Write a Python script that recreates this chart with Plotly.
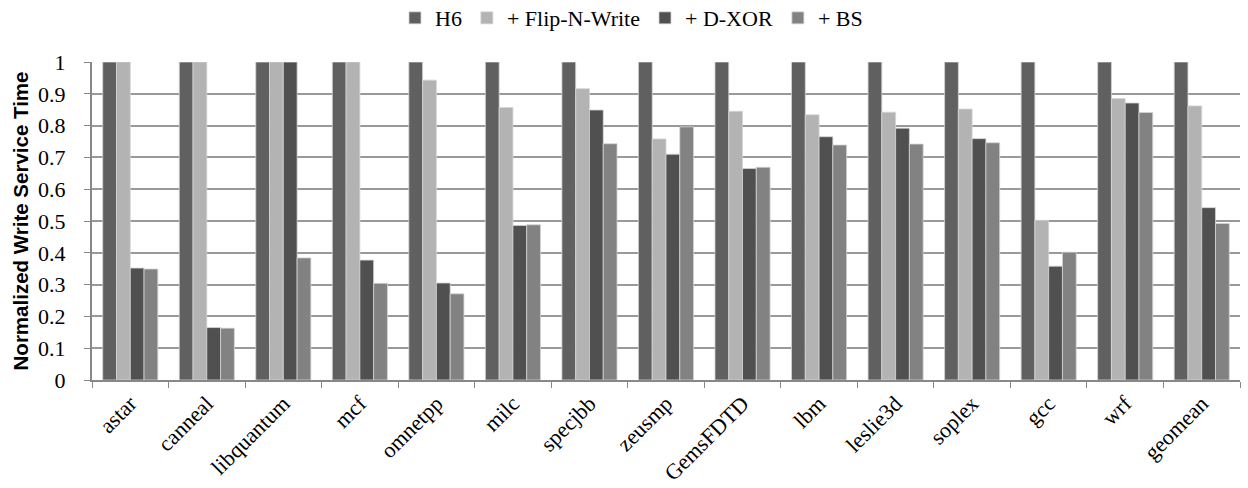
import plotly.graph_objects as go

benchmarks = ["astar", "canneal", "libquantum", "mcf", "omnetpp", "milc", "specjbb",
              "zeusmp", "GemsFDTD", "lbm", "leslie3d", "soplex", "gcc", "wrf", "geomean"]

h6 = [1.0] * 15
flip_n_write = [1.0, 1.0, 1.0, 1.0, 0.943, 0.857, 0.916, 0.758, 0.845, 0.834,
                0.842, 0.852, 0.502, 0.885, 0.862]
d_xor = [0.352, 0.165, 1.0, 0.377, 0.305, 0.486, 0.849, 0.710, 0.665, 0.765,
         0.792, 0.759, 0.358, 0.871, 0.542]
bs = [0.349, 0.163, 0.384, 0.304, 0.271, 0.488, 0.743, 0.796, 0.669, 0.739,
      0.742, 0.746, 0.402, 0.841, 0.492]

series = [
    ("H6", h6, "#606060"),
    ("+ Flip-N-Write", flip_n_write, "#b3b3b3"),
    ("+ D-XOR", d_xor, "#505050"),
    ("+ BS", bs, "#828282"),
]

serif = "'Liberation Serif', 'Times New Roman', serif"

fig = go.Figure()
for name, vals, color in series:
    fig.add_trace(go.Bar(
        name=name, x=benchmarks, y=vals,
        marker=dict(color=color, line=dict(color="#d4d4d4", width=0.8)),
    ))

fig.update_layout(
    width=1248, height=488,
    margin=dict(l=92, r=8, t=62, b=108),
    paper_bgcolor="white", plot_bgcolor="white",
    barmode="group", bargap=0.28, bargroupgap=0,
    font=dict(family=serif, size=22, color="black"),
    legend=dict(orientation="h", x=0.506, xanchor="center", xref="container",
                y=0.963, yanchor="middle", yref="container",
                font=dict(family=serif, size=22),
                itemwidth=30, traceorder="normal"),
    xaxis=dict(
        type="category", tickangle=-45, tickson="boundaries", automargin=False,
        ticks="outside", ticklen=6, tickcolor="#888888",
        showline=True, linecolor="#888888", linewidth=2,
        showgrid=False, tickfont=dict(family=serif, size=22),
    ),
    yaxis=dict(
        range=[0, 1.0], dtick=0.1, tickformat="~g", automargin=False,
        ticks="outside", ticklen=6, tickcolor="#888888",
        showline=True, linecolor="#888888", linewidth=2,
        showgrid=True, gridcolor="#999999", gridwidth=1.5,
        zeroline=False, tickfont=dict(family=serif, size=22),
        ticklabelstandoff=14,
        title=dict(text="<b>Normalized Write Service Time</b>",
                   font=dict(family="Liberation Sans", size=20.5),
                   standoff=4),
    ),
)

fig.write_html("out.html")
